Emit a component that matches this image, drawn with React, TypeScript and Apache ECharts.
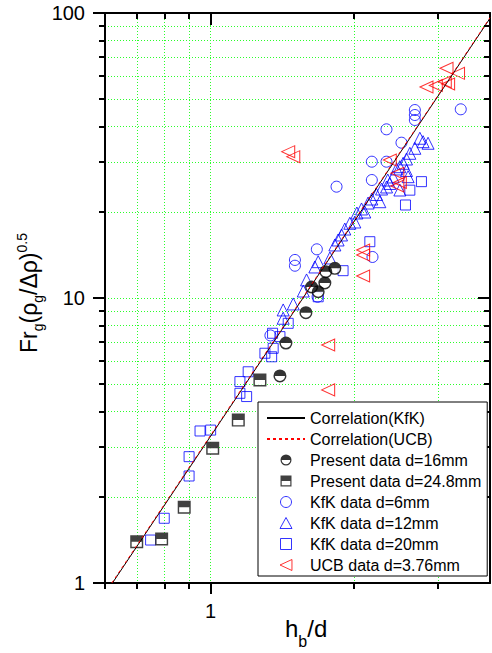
import React, { useEffect, useRef } from 'react';
import * as echarts from 'echarts';

const FONT = '"Liberation Sans", Arial, Helvetica, sans-serif';
const GREEN = '#2bff2b';

// ---- axes ----
const xRange = [0.6, 3.86];
const yRange = [1, 100];
const xMajorTicks = [1];
const xMinorTicks = [0.6, 0.7, 0.8, 0.9, 1, 2, 3];
const yMajorTicks = [1, 10, 100];
const yMinorTicks = [2, 3, 4, 5, 6, 7, 8, 9, 10, 20, 30, 40, 50, 60, 70, 80, 90];

// ---- legend names ----
const nKfKCorr = 'Correlation(KfK)';
const nUCBCorr = 'Correlation(UCB)';
const nP16 = 'Present data d=16mm';
const nP24 = 'Present data d=24.8mm';
const nK6 = 'KfK data d=6mm';
const nK12 = 'KfK data d=12mm';
const nK20 = 'KfK data d=20mm';
const nU = 'UCB data d=3.76mm';

// ---- data ----
const kfkCorrelation = [[0.622, 1], [3.86, 95.8]];
const ucbCorrelation = [[0.62, 1], [3.86, 96.3]];

const present16 = [
  [1.398, 5.33], [1.439, 6.95], [1.585, 8.88], [1.629, 10.93], [1.682, 10.52],
  [1.737, 11.29], [1.745, 12.37], [1.823, 12.71],
];
const present24 = [
  [0.6995, 1.396], [0.789, 1.427], [0.88, 1.844], [1.01, 2.97], [1.143, 3.73], [1.269, 5.16],
];
const kfk6 = [
  [1.335, 7.39], [1.503, 13.6], [1.503, 12.98], [1.671, 14.82], [1.677, 10.1], [1.838, 24.58],
  [2.18, 25.94], [2.18, 30.08], [2.34, 30.08], [2.34, 39.07], [2.516, 35.07], [2.684, 45.66],
  [2.684, 43.86], [2.684, 42.13], [3.351, 45.93], [2.187, 13.93],
];
const kfk12 = [
  [1.42, 8.49], [1.42, 9.08], [1.491, 9.53], [1.565, 10.58], [1.59, 11.57], [1.655, 12.85],
  [1.682, 13.41], [1.78, 13.82], [1.823, 15.35], [1.852, 15.98], [1.883, 16.64], [1.913, 17.46],
  [1.96, 18.29], [2.008, 18.48], [2.028, 19.87], [2.074, 20.53], [2.107, 20.03], [2.141, 21.54],
  [2.18, 22.25], [2.23, 23.08], [2.266, 21.77], [2.285, 24.12], [2.341, 24.52], [2.378, 25.23],
  [2.416, 26.59], [2.457, 28.36], [2.496, 28.89], [2.536, 29.69], [2.578, 30.74], [2.578, 28.02],
  [2.598, 26.65], [2.62, 32.19], [2.684, 33.52], [2.75, 36.35], [2.793, 35.36], [2.861, 34.91],
  [2.496, 23.93], [2.355, 25.94],
];
const kfk20 = [
  [0.748, 1.415], [0.799, 1.687], [0.901, 2.374], [0.901, 2.775], [0.95, 3.415], [1.0, 3.44],
  [1.152, 5.09], [1.152, 4.63], [1.19, 4.51], [1.199, 5.51], [1.3, 6.4], [1.343, 6.22],
  [1.353, 6.66], [1.349, 7.52], [1.398, 7.32], [1.455, 8.15], [1.682, 10.1], [1.897, 12.47],
  [2.159, 15.76], [2.565, 21.2], [2.62, 23.9], [2.771, 25.6],
];
const ucb = [
  [1.455, 32.61], [1.491, 31.32], [2.378, 30.5], [2.466, 27.39], [2.496, 25.43], [2.466, 24.72],
  [2.09, 14.74], [2.09, 14.16], [2.09, 11.95], [1.765, 6.84], [1.765, 4.76], [2.839, 55.01],
  [2.97, 55.67], [3.102, 57.4], [3.152, 56.35], [3.128, 63.97], [3.307, 61.42],
];

const halfCircle = 'path://M-1 0 A1 1 0 0 1 1 0 A1 1 0 0 1 -1 0 Z M0.78 0 L-0.78 0 A0.78 0.78 0 0 0 0.78 0 Z';
const halfSquare = 'path://M-1 -1 L1 -1 L1 1 L-1 1 Z M0.78 0 L-0.78 0 L-0.78 0.78 L0.78 0.78 Z';
const leftTriangle = 'path://M0 6 L13 0 L13 12 Z';
const upTriangleIcon = 'path://M6 0 L12 11 L0 11 Z';
const squareIcon = 'path://M0 0 L10 0 L10 10 L0 10 Z';

function measure(t: string, size: number): number {
  const c = document.createElement('canvas').getContext('2d');
  if (!c) return t.length * size * 0.55;
  c.font = `${size}px ${FONT}`;
  return c.measureText(t).width;
}

function titleGroup(parts: [string, number, number][], x: number, y: number, rotation: number) {
  let cx = 0;
  const children: any[] = [];
  for (const [t, size, dy] of parts) {
    children.push({
      type: 'text',
      x: cx,
      y: dy - 0.3465 * size,
      style: {
        text: t, fontSize: size, fontFamily: FONT, fill: '#000',
        align: 'left', verticalAlign: 'middle', textAlign: 'left', textVerticalAlign: 'middle',
      },
    });
    cx += measure(t, size);
  }
  return { type: 'group', x, y, rotation, children };
}

function axisBase(range: number[], position: string, show: any) {
  return {
    type: 'log', logBase: 10, min: range[0], max: range[1], position, offset: 0,
    axisLine: { show: show.line, onZero: false, lineStyle: { color: '#000', width: 2 } },
    axisTick: {
      show: true, inside: show.inside, length: show.len, customValues: show.ticks,
      lineStyle: { color: '#000', width: 2 },
    },
    axisLabel: show.labels
      ? { show: true, customValues: show.ticks, margin: show.margin, fontSize: 20, color: '#000', fontFamily: FONT }
      : { show: false },
    splitLine: show.grid
      ? { show: true, lineStyle: { color: GREEN, type: [1, 2], width: 1 } }
      : { show: false },
    minorTick: { show: false },
    minorSplitLine: { show: false },
  };
}

export default function App() {
  const ref = useRef<HTMLDivElement>(null);
  useEffect(() => {
    document.body.style.margin = '0';
    const chart = echarts.init(ref.current!, null, { renderer: 'svg' });
    const blueStyle = { color: 'rgba(0,0,0,0)', borderColor: '#0000ff', borderWidth: 1 };
    const option: any = {
      animation: false,
      backgroundColor: '#fff',
      grid: { left: 105, top: 13, right: 2, bottom: 70, containLabel: false },
      xAxis: [
        axisBase(xRange, 'bottom', { line: true, inside: false, len: 11, ticks: xMajorTicks, labels: true, margin: 18 }),
        axisBase(xRange, 'bottom', { line: false, inside: false, len: 6, ticks: xMinorTicks, grid: true }),
        axisBase(xRange, 'top', { line: true, inside: true, len: 12, ticks: xMajorTicks }),
        axisBase(xRange, 'top', { line: false, inside: true, len: 6, ticks: xMinorTicks }),
      ],
      yAxis: [
        axisBase(yRange, 'left', { line: true, inside: false, len: 12, ticks: yMajorTicks, labels: true, margin: 20 }),
        axisBase(yRange, 'left', { line: false, inside: false, len: 6, ticks: yMinorTicks, grid: true }),
        axisBase(yRange, 'right', { line: true, inside: true, len: 12, ticks: yMajorTicks }),
        axisBase(yRange, 'right', { line: false, inside: true, len: 6, ticks: yMinorTicks }),
      ],
      legend: {
        orient: 'vertical', left: 258, top: 402,
        padding: [8, 6, 3, 8],
        itemWidth: 38, itemHeight: 11, itemGap: 5,
        backgroundColor: '#fff', borderColor: '#000', borderWidth: 1, borderRadius: 0,
        textStyle: { fontSize: 16, lineHeight: 16, fontFamily: FONT, color: '#000' },
        data: [
          { name: nKfKCorr, itemStyle: { color: 'rgba(0,0,0,0)', borderWidth: 0 } },
          { name: nUCBCorr, itemStyle: { color: 'rgba(0,0,0,0)', borderWidth: 0 } },
          { name: nP16, itemStyle: { borderWidth: 0 } },
          { name: nP24, itemStyle: { borderWidth: 0 } },
          { name: nK6, itemStyle: { borderWidth: 1 } },
          { name: nK12, icon: upTriangleIcon, itemStyle: { borderWidth: 1 } },
          { name: nK20, icon: squareIcon, itemStyle: { borderWidth: 1 } },
          { name: nU, itemStyle: { borderWidth: 1 } },
        ],
      },
      graphic: [
        titleGroup([['h', 24, 0], ['b', 16, 10], ['/d', 24, 0]], 285, 636.7, 0),
        titleGroup(
          [['Fr', 23, 0], ['g', 14, 6], ['(\u03c1', 23, 0], ['g', 14, 6], ['/\u0394\u03c1)', 23, 0], ['0.5', 14, -10]],
          37, 353, Math.PI / 2,
        ),
      ],
      series: [
        { name: nK6, type: 'scatter', symbol: 'circle', symbolSize: 11, itemStyle: blueStyle, data: kfk6 },
        { name: nK12, type: 'scatter', symbol: 'triangle', symbolSize: 12, itemStyle: blueStyle, data: kfk12 },
        { name: nK20, type: 'scatter', symbol: 'rect', symbolSize: 10, itemStyle: blueStyle, data: kfk20 },
        {
          name: nU, type: 'scatter', symbol: leftTriangle, symbolSize: [13, 12],
          itemStyle: { color: 'rgba(0,0,0,0)', borderColor: '#ff0000', borderWidth: 1 }, data: ucb,
        },
        { name: '_under16', type: 'scatter', symbol: 'circle', symbolSize: 12, itemStyle: { color: '#fff' }, data: present16 },
        { name: nP16, type: 'scatter', symbol: halfCircle, symbolSize: 13, itemStyle: { color: '#000' }, data: present16 },
        { name: '_under24', type: 'scatter', symbol: 'rect', symbolSize: 12, itemStyle: { color: '#fff' }, data: present24 },
        { name: nP24, type: 'scatter', symbol: halfSquare, symbolSize: 13, itemStyle: { color: '#111' }, data: present24 },
        {
          name: nKfKCorr, type: 'line', symbol: 'none', showSymbol: false, data: kfkCorrelation,
          lineStyle: { color: '#000', width: 1 }, itemStyle: { color: '#000' }, z: 5,
        },
        {
          name: nUCBCorr, type: 'line', symbol: 'none', showSymbol: false, data: ucbCorrelation,
          lineStyle: { color: '#ff0000', width: 1, type: [3, 3] }, itemStyle: { color: '#ff0000' }, z: 6,
        },
      ],
    };
    chart.setOption(option);
    return () => chart.dispose();
  }, []);
  return <div ref={ref} style={{ width: 492, height: 653, position: 'absolute', left: 0, top: 0 }} />;
}
